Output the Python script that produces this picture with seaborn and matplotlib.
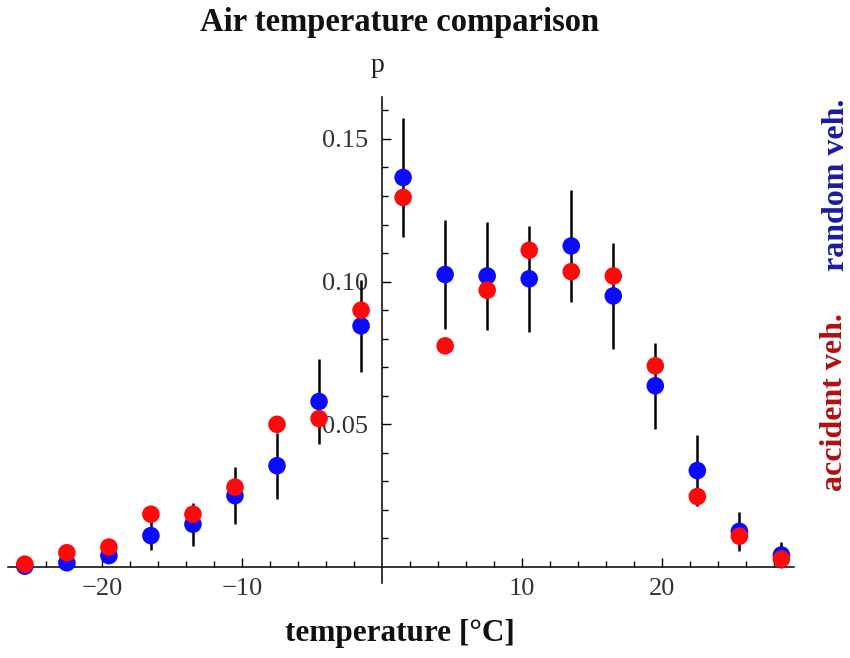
import matplotlib
matplotlib.use("Agg")
import matplotlib.pyplot as plt
import seaborn as sns
import numpy as np
import pandas as pd
from matplotlib.ticker import FixedLocator

# ---- data ----
temperature = [-25.5, -22.5, -19.5, -16.5, -13.5, -10.5, -7.5, -4.5, -1.5,
               1.5, 4.5, 7.5, 10.5, 13.5, 16.5, 19.5, 22.5, 25.5, 28.5]
p_accident = [0.001, 0.005, 0.007, 0.0185, 0.0185, 0.028, 0.050, 0.052, 0.090,
              0.1295, 0.0775, 0.0970, 0.1110, 0.1035, 0.1020, 0.0705, 0.0247, 0.0108, 0.0028]
p_random = [0.0003, 0.0015, 0.004, 0.011, 0.015, 0.025, 0.0355, 0.058, 0.0845,
            0.1365, 0.1025, 0.1020, 0.1010, 0.1125, 0.0950, 0.0635, 0.0338, 0.0125, 0.0042]
p_random_err = [0.001, 0.001, 0.002, 0.005, 0.0075, 0.010, 0.0115, 0.015, 0.016,
                0.021, 0.019, 0.019, 0.0185, 0.0195, 0.0185, 0.015, 0.0125, 0.0068, 0.0045]
x_ticks = [-20, -10, 10, 20]
x_tick_labels = ["\u221220", "\u221210", "10", "20"]
y_ticks = [0.05, 0.10, 0.15]
y_tick_labels = ["0.05", "0.10", "0.15"]

df = pd.DataFrame({"temperature": temperature, "accident": p_accident,
                   "random": p_random, "err": p_random_err})

sns.set_theme(style="white")
plt.rcParams["font.family"] = ["Liberation Serif", "DejaVu Serif"]

W, H = 850, 658
fig = plt.figure(figsize=(W / 100, H / 100), dpi=100)
left, right, top, bottom = 8, 794, 97, 583
ax = fig.add_axes([left / W, 1 - bottom / H, (right - left) / W, (bottom - top) / H])
ax.set_facecolor("white")

ax.errorbar(df["temperature"], df["random"], yerr=df["err"], fmt="none",
            ecolor="black", elinewidth=1.8, capsize=0, zorder=2)
sns.scatterplot(data=df, x="temperature", y="random", color="#0a0aff", s=160,
                edgecolor="none", linewidth=0, ax=ax, zorder=3)
sns.scatterplot(data=df, x="temperature", y="accident", color="#ff0a0a", s=160,
                edgecolor="none", linewidth=0, ax=ax, zorder=4)

ax.set_xlim(-26.7, 29.4)
ax.set_ylim(-0.0056, 0.1647)

for s in ["top", "right"]:
    ax.spines[s].set_visible(False)
ax.spines["left"].set_position(("data", 0))
ax.spines["bottom"].set_position(("data", 0))
for s in ["left", "bottom"]:
    ax.spines[s].set_color("black")
    ax.spines[s].set_linewidth(1.1)

ax.xaxis.set_major_locator(FixedLocator(x_ticks))
ax.set_xticklabels(x_tick_labels)
ax.xaxis.set_minor_locator(FixedLocator([v for v in range(-26, 30, 2) if v != 0 and v % 10 != 0]))
ax.yaxis.set_major_locator(FixedLocator(y_ticks))
ax.set_yticklabels(y_tick_labels)
ax.yaxis.set_minor_locator(FixedLocator([0.01, 0.02, 0.03, 0.04, 0.06, 0.07, 0.08, 0.09,
                                         0.11, 0.12, 0.13, 0.14, 0.16]))
ax.tick_params(axis="both", which="major", direction="in", length=6.5, width=1.0,
               color="black", labelsize=19, labelcolor="#333333")
ax.tick_params(axis="both", which="minor", direction="in", length=4, width=1.0, color="black")
ax.tick_params(axis="x", which="major", pad=8)
ax.tick_params(axis="y", which="major", pad=10)
ax.tick_params(left=True, bottom=True, which="both")

ax.set_xlabel("")
ax.set_ylabel("")

fig.text(400 / W, 1 - 22 / H, "Air temperature comparison", ha="center", va="center",
         fontsize=23.5, fontweight="bold", color="#111111")
fig.text(378 / W, 1 - 66 / H, "p", ha="center", va="center", fontsize=20, color="#222222")
fig.text(400 / W, 1 - 634 / H, "temperature [\u00b0C]", ha="center", va="center",
         fontsize=22.5, fontweight="bold", color="#111111")
fig.text(835 / W, 1 - 402 / H, "accident veh.", rotation=90, ha="center", va="center",
         fontsize=23, fontweight="bold", color="#b01010")
fig.text(836 / W, 1 - 185 / H, "random veh.", rotation=90, ha="center", va="center",
         fontsize=23, fontweight="bold", color="#1c1c9c")

fig.savefig("out.png", dpi=100, facecolor="white")
